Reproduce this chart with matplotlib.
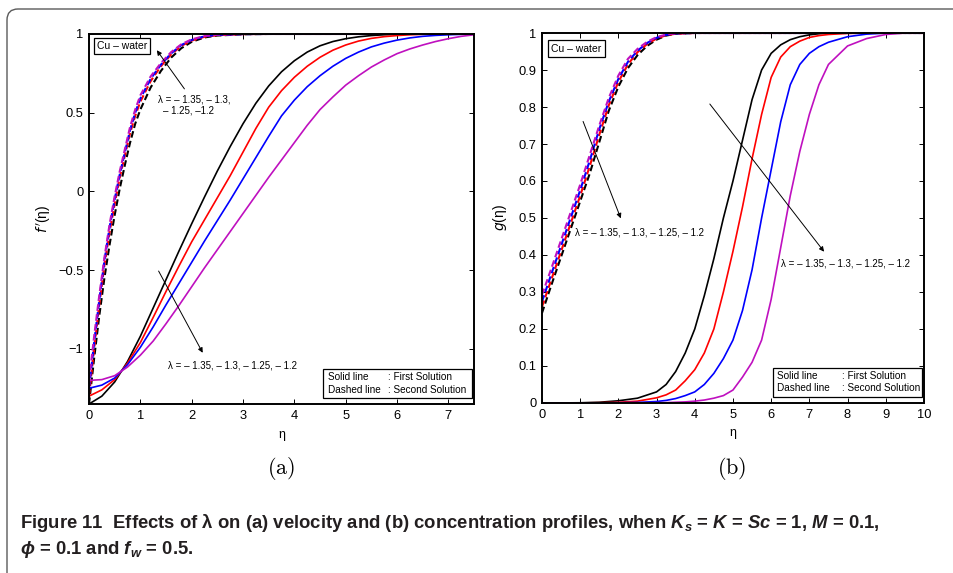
import matplotlib
matplotlib.use('Agg')
import matplotlib.pyplot as plt
from matplotlib.patches import FancyBboxPatch, Rectangle
from matplotlib.transforms import IdentityTransform

plt.rcParams['font.family'] = ['Liberation Sans', 'DejaVu Sans']
plt.rcParams['mathtext.fontset'] = 'custom'
plt.rcParams['mathtext.rm'] = 'Liberation Sans:bold'
plt.rcParams['mathtext.it'] = 'Liberation Sans:italic:bold'
plt.rcParams['mathtext.bf'] = 'Liberation Sans:bold'

colors = ['k', 'r', 'b', '#bf10bf']
lam_text = 'λ = – 1.35, – 1.3, – 1.25, – 1.2'

# ---- (a) velocity f'(eta), first (solid) solutions
eta_a = [0, 0.25, 0.5, 0.75, 1.0, 1.25, 1.5, 1.75, 2.0, 2.25, 2.5, 2.75, 3.0, 3.25, 3.5, 3.75,
         4.0, 4.25, 4.5, 4.75, 5.0, 5.25, 5.5, 5.75, 6.0, 6.25, 6.5, 6.75, 7.0, 7.25, 7.5]
fa_k = [-1.35, -1.30, -1.21, -1.08, -0.92, -0.74, -0.56, -0.38, -0.205, -0.035, 0.13, 0.285, 0.43, 0.56, 0.67, 0.76,
        0.83, 0.885, 0.925, 0.952, 0.97, 0.982, 0.99, 0.995, 0.998, 1.0, 1.0, 1.0, 1.0, 1.0, 1.0]
fa_r = [-1.30, -1.26, -1.195, -1.09, -0.96, -0.80, -0.635, -0.475, -0.32, -0.18, -0.04, 0.10, 0.25, 0.40, 0.535, 0.64,
        0.725, 0.795, 0.852, 0.897, 0.93, 0.955, 0.972, 0.983, 0.99, 0.995, 0.998, 1.0, 1.0, 1.0, 1.0]
fa_b = [-1.25, -1.23, -1.185, -1.10, -0.99, -0.86, -0.72, -0.585, -0.45, -0.315, -0.185, -0.055, 0.08, 0.215, 0.35, 0.48,
        0.58, 0.665, 0.735, 0.795, 0.845, 0.885, 0.918, 0.942, 0.961, 0.975, 0.985, 0.991, 0.995, 0.998, 1.0]
fa_m = [-1.20, -1.195, -1.17, -1.115, -1.04, -0.95, -0.84, -0.725, -0.605, -0.485, -0.37, -0.255, -0.14, -0.025, 0.09, 0.20,
        0.31, 0.42, 0.52, 0.60, 0.675, 0.735, 0.79, 0.835, 0.875, 0.905, 0.93, 0.952, 0.97, 0.985, 0.995]

# ---- (a) second (dashed) solutions
eta_a2 = [0, 0.1, 0.2, 0.3, 0.4, 0.5, 0.6, 0.7, 0.8, 0.9, 1.0, 1.2, 1.4, 1.6, 1.8,
          2.0, 2.25, 2.5, 3.0, 3.5, 7.5]
fa2_k = [-1.35, -1.06, -0.79, -0.55, -0.34, -0.15, 0.02, 0.17, 0.31, 0.43, 0.52, 0.66, 0.765, 0.85, 0.91,
         0.95, 0.978, 0.99, 0.998, 1.0, 1.0]
fa2_r = [-1.30, -1.00, -0.72, -0.47, -0.26, -0.08, 0.09, 0.23, 0.37, 0.48, 0.57, 0.70, 0.795, 0.87, 0.925,
         0.958, 0.982, 0.992, 0.999, 1.0, 1.0]
fa2_b = [-1.25, -0.96, -0.69, -0.44, -0.23, -0.05, 0.11, 0.25, 0.39, 0.50, 0.59, 0.715, 0.805, 0.877, 0.93,
         0.962, 0.985, 0.994, 0.999, 1.0, 1.0]
fa2_m = [-1.20, -0.92, -0.66, -0.42, -0.21, -0.03, 0.13, 0.27, 0.41, 0.52, 0.61, 0.73, 0.815, 0.885, 0.935,
         0.966, 0.987, 0.995, 1.0, 1.0, 1.0]

# ---- (b) concentration g(eta), first (solid) solutions
eta_b = [0, 0.5, 1, 1.5, 2, 2.5, 3, 3.25, 3.5, 3.75, 4, 4.25, 4.5, 4.75, 5, 5.25, 5.5,
         5.75, 6, 6.25, 6.5, 6.75, 7, 7.25, 7.5, 8, 8.5, 9, 9.5, 10]
gb_k = [0, 0.0002, 0.0006, 0.002, 0.006, 0.013, 0.03, 0.05, 0.085, 0.135, 0.2, 0.29, 0.39, 0.5, 0.6, 0.71, 0.82,
        0.9, 0.945, 0.968, 0.982, 0.99, 0.995, 0.998, 1, 1, 1, 1, 1, 1]
gb_r = [0, 0.0001, 0.0003, 0.0008, 0.002, 0.005, 0.014, 0.022, 0.035, 0.06, 0.09, 0.135, 0.2, 0.3, 0.41, 0.53, 0.66,
        0.78, 0.88, 0.935, 0.963, 0.978, 0.988, 0.993, 0.996, 0.999, 1, 1, 1, 1]
gb_b = [0, 0, 0.0001, 0.0003, 0.0007, 0.0015, 0.004, 0.007, 0.012, 0.02, 0.03, 0.05, 0.08, 0.12, 0.17, 0.25, 0.36,
        0.5, 0.63, 0.76, 0.86, 0.915, 0.945, 0.963, 0.975, 0.99, 0.997, 1, 1, 1]
gb_m = [0, 0, 0, 0.0001, 0.0002, 0.0004, 0.0008, 0.001, 0.002, 0.003, 0.005, 0.008, 0.013, 0.02, 0.035, 0.07, 0.11,
        0.17, 0.28, 0.42, 0.56, 0.68, 0.78, 0.86, 0.915, 0.965, 0.985, 0.996, 1, 1]

# ---- (b) second (dashed) solutions
eta_b2 = [0, 0.25, 0.5, 0.75, 1, 1.25, 1.5, 1.75, 2, 2.25, 2.5, 2.75, 3, 3.25, 3.5, 4, 10]
gb2_k = [0.243, 0.32, 0.395, 0.47, 0.545, 0.62, 0.705, 0.79, 0.855, 0.905, 0.94, 0.965, 0.982, 0.993, 0.998, 1, 1]
gb2_r = [0.26, 0.335, 0.41, 0.485, 0.56, 0.64, 0.725, 0.805, 0.868, 0.915, 0.948, 0.97, 0.985, 0.994, 0.998, 1, 1]
gb2_b = [0.274, 0.35, 0.425, 0.5, 0.575, 0.655, 0.74, 0.815, 0.876, 0.922, 0.952, 0.973, 0.987, 0.995, 0.999, 1, 1]
gb2_m = [0.292, 0.365, 0.44, 0.515, 0.59, 0.67, 0.75, 0.825, 0.885, 0.93, 0.957, 0.976, 0.989, 0.996, 0.999, 1, 1]

xticks_a = [0, 1, 2, 3, 4, 5, 6, 7]
yticks_a = [-1, -0.5, 0, 0.5, 1]
ylabels_a = ['\u22121', '\u22120.5', '0', '0.5', '1']
xticks_b = [0, 1, 2, 3, 4, 5, 6, 7, 8, 9, 10]
yticks_b = [0, 0.1, 0.2, 0.3, 0.4, 0.5, 0.6, 0.7, 0.8, 0.9, 1]
ylabels_b = ['0', '0.1', '0.2', '0.3', '0.4', '0.5', '0.6', '0.7', '0.8', '0.9', '1']

fig = plt.figure(figsize=(9.54, 5.73), dpi=100)
fig.patch.set_facecolor('white')

# rounded frame around the whole figure
frame = FancyBboxPatch((7, -30), 1100, 564 + 30, boxstyle='round,pad=0,rounding_size=11',
                       transform=IdentityTransform(), fc='none', ec='#5a5a5a', lw=1.0)
fig.patches.append(frame)

ax1 = fig.add_axes([0.0933, 0.2949, 0.4036, 0.6458])
ax2 = fig.add_axes([0.5681, 0.2967, 0.4004, 0.6457])


def style_axes(ax):
    for s in ax.spines.values():
        s.set_linewidth(1.4)
    ax.tick_params(direction='in', top=True, right=True, length=3.5, width=0.7,
                   labelsize=9.3, pad=4)


def note_box(ax, x0, y0, w, h, xt, xc, y1, y2):
    ax.add_patch(Rectangle((x0, y0), w, h, transform=ax.transAxes, fc='w', ec='k', lw=0.9, zorder=5))
    ax.text(xt, y1, 'Solid line', transform=ax.transAxes, fontsize=7.2, va='center', zorder=6)
    ax.text(xc, y1, ': First Solution', transform=ax.transAxes, fontsize=7.2, va='center', zorder=6)
    ax.text(xt, y2, 'Dashed line', transform=ax.transAxes, fontsize=7.2, va='center', zorder=6)
    ax.text(xc, y2, ': Second Solution', transform=ax.transAxes, fontsize=7.2, va='center', zorder=6)


# ----- panel (a)
for y, c in zip([fa2_k, fa2_r, fa2_b, fa2_m], colors):
    ax1.plot(eta_a2, y, color=c, lw=1.5, ls='--', dashes=(3.2, 1.6))
for y, c in zip([fa_k, fa_r, fa_b, fa_m], colors):
    ax1.plot(eta_a, y, color=c, lw=1.2)
ax1.set_xlim(0, 7.5)
ax1.set_ylim(-1.35, 1)
ax1.set_xticks(xticks_a)
ax1.set_yticks(yticks_a)
ax1.set_yticklabels(ylabels_a)
style_axes(ax1)
ax1.set_xlabel('η', fontsize=9, labelpad=5)
ax1.set_ylabel("$f\\,'$(η)", fontsize=10, labelpad=4, math_fontfamily='dejavusans')
ax1.text(0.02, 0.968, 'Cu – water', transform=ax1.transAxes, fontsize=7.5, va='center',
         bbox=dict(boxstyle='square,pad=0.3', fc='w', ec='k', lw=0.9))
ax1.annotate('', xy=(1.29, 0.911), xytext=(1.89, 0.637),
             arrowprops=dict(arrowstyle='-|>', color='k', lw=0.7, mutation_scale=7))
ax1.text(1.345, 0.586, 'λ = – 1.35, – 1.3,', fontsize=7, va='center')
ax1.text(1.44, 0.516, '– 1.25, –1.2', fontsize=7, va='center')
ax1.annotate('', xy=(2.24, -1.04), xytext=(1.33, -0.49),
             arrowprops=dict(arrowstyle='-|>', color='k', lw=0.7, mutation_scale=7))
ax1.text(1.54, -1.108, lam_text, fontsize=7, va='center')
note_box(ax1, 0.608, 0.016, 0.387, 0.079, 0.62, 0.777, 0.073, 0.038)

# ----- panel (b)
for y, c in zip([gb2_k, gb2_r, gb2_b, gb2_m], colors):
    ax2.plot(eta_b2, y, color=c, lw=1.5, ls='--', dashes=(3.2, 1.6))
for y, c in zip([gb_k, gb_r, gb_b, gb_m], colors):
    ax2.plot(eta_b, y, color=c, lw=1.2)
ax2.set_xlim(0, 10)
ax2.set_ylim(0, 1)
ax2.set_xticks(xticks_b)
ax2.set_yticks(yticks_b)
ax2.set_yticklabels(ylabels_b)
style_axes(ax2)
ax2.set_xlabel('η', fontsize=9, labelpad=5)
ax2.set_ylabel('$g$(η)', fontsize=10, labelpad=7, math_fontfamily='dejavusans')
ax2.text(0.024, 0.958, 'Cu – water', transform=ax2.transAxes, fontsize=7.5, va='center',
         bbox=dict(boxstyle='square,pad=0.3', fc='w', ec='k', lw=0.9))
ax2.annotate('', xy=(2.09, 0.492), xytext=(1.05, 0.768),
             arrowprops=dict(arrowstyle='-|>', color='k', lw=0.7, mutation_scale=7))
ax2.text(0.86, 0.462, lam_text, fontsize=7, va='center')
ax2.annotate('', xy=(7.43, 0.403), xytext=(4.35, 0.814),
             arrowprops=dict(arrowstyle='-|>', color='k', lw=0.7, mutation_scale=7))
ax2.text(6.26, 0.378, lam_text, fontsize=7, va='center')
note_box(ax2, 0.605, 0.016, 0.39, 0.079, 0.614, 0.785, 0.073, 0.04)

# sub-figure labels
fig.text(281 / 954, 1 - 468 / 573, '$\\mathrm{(a)}$', fontsize=16, ha='center', va='center',
         math_fontfamily='cm')
fig.text(732 / 954, 1 - 468 / 573, '$\\mathrm{(b)}$', fontsize=16, ha='center', va='center',
         math_fontfamily='cm')

# caption
cap_font = dict(family=['Liberation Sans', 'DejaVu Sans'], weight='bold', fontsize=13.3,
                color='#231f20', va='center', ha='left')
fig.text(0.021, 1 - 523 / 573,
         'Figure 11  Effects of λ on (a) velocity and (b) concentration profiles, when '
         '$K_s$ = $K$ = $Sc$ = 1, $M$ = 0.1,', **cap_font)
fig.text(0.021, 1 - 550 / 573, '$\\phi$ = 0.1 and $f_w$ = 0.5.', **cap_font)

fig.savefig('out.png', dpi=100)
